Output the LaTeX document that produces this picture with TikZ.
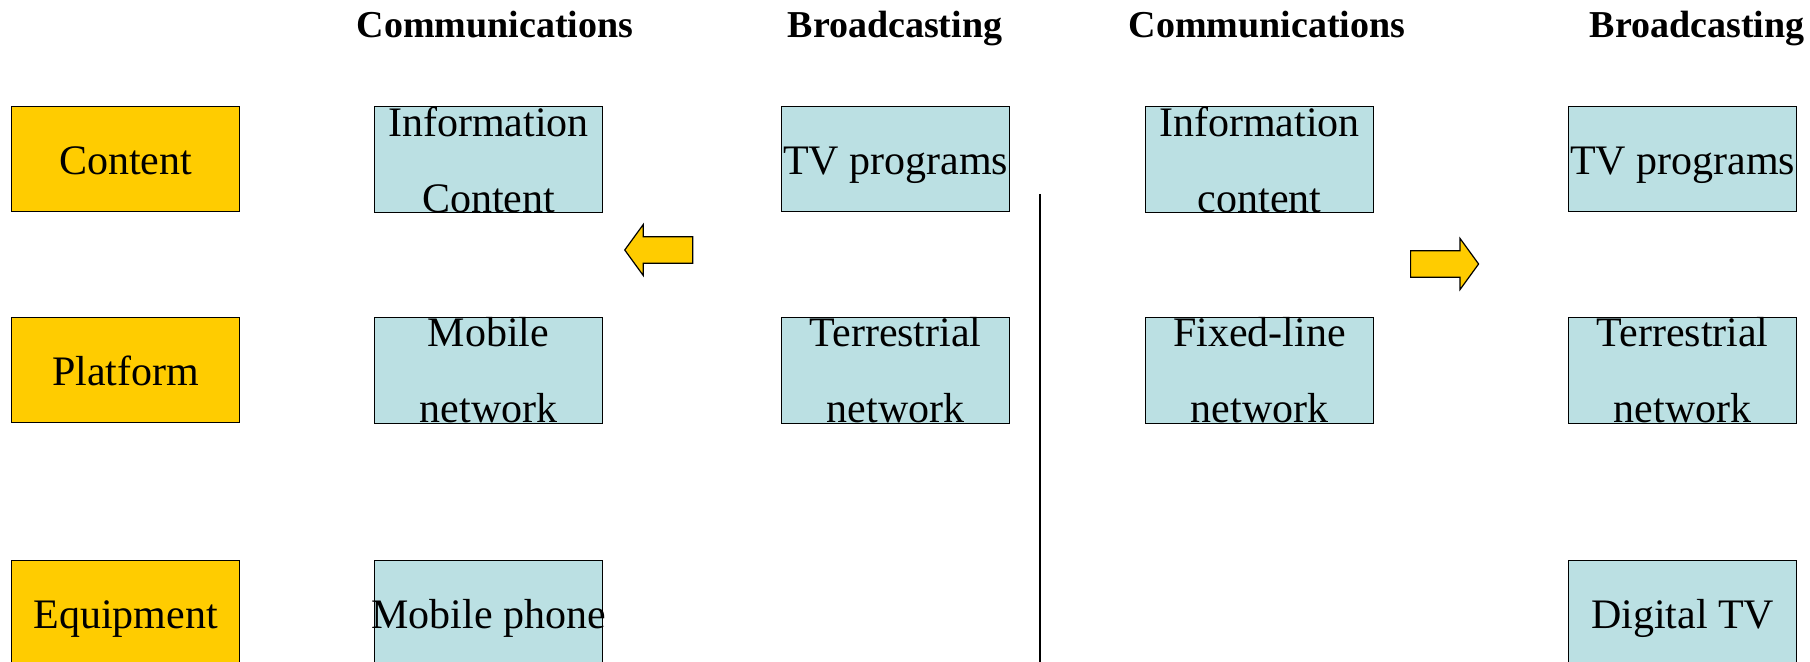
\documentclass[tikz,border=0pt]{standalone}
\usepackage{fontspec}
\setmainfont{Liberation Serif}
\usetikzlibrary{shapes.arrows}
\definecolor{rowyellow}{RGB}{255,204,0}
\definecolor{cellblue}{RGB}{187,224,227}
\begin{document}
\begin{tikzpicture}[x=0.5pt, y=-0.5pt,
		box/.style={draw, rectangle, line width=0.6pt, minimum width=114pt, minimum height=52.5pt, inner sep=0pt, align=center, anchor=north west, font=\fontsize{21}{38}\selectfont},
		oneline/.style={text height=15.6pt, text depth=0pt},
		rowbox/.style={box, oneline, fill=rowyellow},
		cellbox/.style={box, fill=cellblue},
		hdr/.style={anchor=base, inner sep=0pt, font=\fontsize{19}{23}\selectfont\bfseries},
		blockarrow/.style={draw, single arrow, fill=rowyellow, line width=0.6pt, minimum height=34pt, inner sep=6.3pt, single arrow head extend=6.2pt, single arrow tip angle=108}]
		\path[use as bounding box, clip] (0,0) rectangle (1810,662);
		% headers
		\node[hdr] (hdr_l_comm) at (495, 38) {Communications};
		\node[hdr] (hdr_l_broad) at (895, 38) {Broadcasting};
		\node[hdr] (hdr_r_comm) at (1267, 38) {Communications};
		\node[hdr] (hdr_r_broad) at (1697, 38) {Broadcasting};
		% row names
		\node[rowbox] (row_content) at (11, 106) {Content};
		\node[rowbox] (row_platform) at (11, 317) {Platform};
		\node[rowbox] (row_equipment) at (11, 560) {Equipment};
		% left half
		\node[cellbox] (l_comm_content) at (374, 106) {Information\\Content};
		\node[cellbox] (l_comm_platform) at (374, 317) {Mobile\\network};
		\node[cellbox, oneline] (l_comm_equipment) at (374, 560) {\makebox[114pt]{Mobile phone}};
		\node[cellbox, oneline] (l_broad_content) at (781, 106) {\makebox[114pt]{TV programs}};
		\node[cellbox] (l_broad_platform) at (781, 317) {Terrestrial\\network};
		\node[blockarrow, shape border rotate=180, anchor=tip] (l_arrow) at (624, 250) {};
		% divider
		\coordinate (div_top) at (1040, 194);
		\coordinate (div_bottom) at (1040, 662);
		\draw[line width=0.6pt] (div_top) -- (div_bottom);
		% right half
		\node[cellbox] (r_comm_content) at (1145, 106) {Information\\content};
		\node[cellbox] (r_comm_platform) at (1145, 317) {Fixed-line\\network};
		\node[cellbox, oneline] (r_broad_content) at (1568, 106) {\makebox[114pt]{TV programs}};
		\node[cellbox] (r_broad_platform) at (1568, 317) {Terrestrial\\network};
		\node[cellbox, oneline] (r_broad_equipment) at (1568, 560) {Digital TV};
		\node[blockarrow, anchor=tail] (r_arrow) at (1410, 264) {};
	\end{tikzpicture}
\end{document}
